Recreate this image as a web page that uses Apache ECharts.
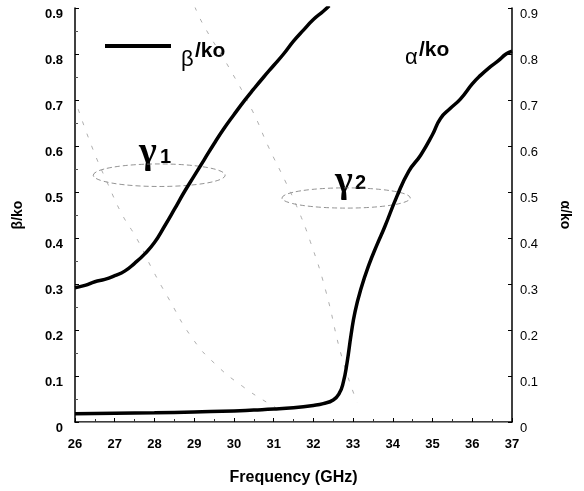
<!DOCTYPE html>
<html>
<head>
<meta charset="utf-8">
<script src="https://cdn.jsdelivr.net/npm/echarts@6/dist/echarts.min.js"></script>
<style>
  html, body { margin: 0; padding: 0; background: #fff; }
  #main { width: 584px; height: 491px; }
</style>
</head>
<body>
<div id="main"></div>
<script>
// beta/ko curve (frequency GHz, value)
var betaFreq = [26, 26.25, 26.5, 26.75, 27, 27.25, 27.5, 27.75, 28, 28.25, 28.5, 28.75, 29, 29.25, 29.5, 29.75, 30, 30.25, 30.5, 30.75, 31, 31.25, 31.5, 31.75, 32, 32.25, 32.4];
var betaVal = [0.292, 0.297, 0.305, 0.310, 0.318, 0.328, 0.345, 0.365, 0.39, 0.425, 0.462, 0.50, 0.535, 0.57, 0.605, 0.638, 0.668, 0.697, 0.724, 0.75, 0.775, 0.80, 0.828, 0.852, 0.875, 0.893, 0.905];

// alpha/ko curve
var alphaFreq = [26, 27, 28, 29, 30, 30.5, 31, 31.5, 32, 32.25, 32.5, 32.65, 32.75, 32.85, 32.95, 33.05, 33.2, 33.4, 33.6, 33.8, 34.1, 34.4, 34.7, 35, 35.2, 35.45, 35.7, 36, 36.2, 36.45, 36.65, 36.85, 37];
var alphaVal = [0.018, 0.019, 0.020, 0.022, 0.024, 0.026, 0.028, 0.031, 0.036, 0.040, 0.048, 0.062, 0.085, 0.13, 0.19, 0.24, 0.29, 0.342, 0.385, 0.425, 0.49, 0.545, 0.58, 0.625, 0.66, 0.682, 0.702, 0.735, 0.753, 0.772, 0.785, 0.80, 0.806];

// faint dashed cone lines
var coneAFreq = [26.08, 26.45, 26.83, 27.18, 27.56, 27.94, 28.32, 28.97, 29.58, 30.21, 30.86, 31.29];
var coneAVal = [0.680, 0.593, 0.517, 0.452, 0.398, 0.333, 0.274, 0.180, 0.122, 0.078, 0.041, 0.020];
var coneBFreq = [29.02, 29.22, 29.90, 30.48, 30.86, 31.29, 31.59, 31.92, 32.30, 32.73, 33.10];
var coneBVal = [0.902, 0.865, 0.767, 0.674, 0.600, 0.524, 0.467, 0.393, 0.289, 0.137, 0.043];

// ellipses: [xMin, xMax, yMin, yMax]
var ellipses = [[26.46, 29.78, 0.512, 0.561], [31.21, 34.44, 0.465, 0.509]];

var xTicks = [26, 27, 28, 29, 30, 31, 32, 33, 34, 35, 36, 37];
var yTicks = [0, 0.1, 0.2, 0.3, 0.4, 0.5, 0.6, 0.7, 0.8, 0.9];

function zip(a, b) {
    var out = [];
    for (var i = 0; i < a.length; i++) out.push([a[i], b[i]]);
    return out;
}

var myChart = echarts.init(document.getElementById('main'));
var font = 'Liberation Sans, Arial, sans-serif';
var serif = 'Liberation Serif, serif';

function yFmt(v) { return v === 0 ? '0' : v.toFixed(1); }

var option = {
    animation: false,
    backgroundColor: '#fff',
    grid: { left: 75, right: 72, top: 8, bottom: 68 },
    xAxis: [{
        type: 'value',
        min: xTicks[0], max: xTicks[xTicks.length - 1], interval: 1,
        name: 'Frequency (GHz)',
        nameLocation: 'middle', nameGap: 48,
        nameTextStyle: { fontFamily: font, fontWeight: 'bold', fontSize: 16, color: '#000' },
        axisLine: { lineStyle: { color: '#000', width: 1.5 } },
        axisTick: { inside: true, length: 4, lineStyle: { color: '#000' } },
        minorTick: { show: true, splitNumber: 2, length: 3, lineStyle: { color: '#333' } },
        axisLabel: { fontFamily: font, fontWeight: 'bold', fontSize: 13, color: '#000', margin: 16 },
        splitLine: { show: false }
    }, {
        type: 'value', position: 'top',
        min: xTicks[0], max: xTicks[xTicks.length - 1],
        axisLine: { show: true, lineStyle: { color: '#888', width: 1 } },
        axisTick: { show: false }, axisLabel: { show: false }, splitLine: { show: false }
    }],
    yAxis: [{
        type: 'value', position: 'left',
        min: yTicks[0], max: yTicks[yTicks.length - 1], interval: 0.1,
        name: 'β/ko', nameLocation: 'middle', nameGap: 50, nameRotate: 90,
        nameTextStyle: { fontFamily: font, fontWeight: 'bold', fontSize: 14, color: '#000' },
        axisLine: { show: true, lineStyle: { color: '#000', width: 1.5 } },
        axisTick: { inside: true, length: 4, lineStyle: { color: '#000' } },
        minorTick: { show: true, splitNumber: 2, length: 3, lineStyle: { color: '#555' } },
        axisLabel: {
            fontFamily: font, fontWeight: 'bold', fontSize: 13, color: '#000', margin: 12,
            verticalAlign: 'top', formatter: yFmt
        },
        splitLine: { show: false }
    }, {
        type: 'value', position: 'right',
        min: yTicks[0], max: yTicks[yTicks.length - 1], interval: 0.1,
        name: 'α/ko', nameLocation: 'middle', nameGap: 46, nameRotate: -90,
        nameTextStyle: { fontFamily: font, fontWeight: 'bold', fontSize: 14, color: '#000' },
        axisLine: { show: true, lineStyle: { color: '#000', width: 1.5 } },
        axisTick: { inside: true, length: 4, lineStyle: { color: '#000' } },
        axisLabel: {
            fontFamily: font, fontSize: 13, color: '#000', margin: 8,
            verticalAlign: 'top', formatter: yFmt
        },
        splitLine: { show: false }
    }],
    series: [
        {
            name: 'coneA', type: 'line', smooth: true, symbol: 'none', silent: true,
            data: zip(coneAFreq, coneAVal),
            lineStyle: { color: '#999', width: 0.8, type: [4, 9] }
        },
        {
            name: 'coneB', type: 'line', smooth: true, symbol: 'none', silent: true,
            data: zip(coneBFreq, coneBVal),
            lineStyle: { color: '#999', width: 0.8, type: [4, 9] }
        },
        {
            name: 'ellipse', type: 'custom', silent: true,
            encode: { x: [0, 1], y: [2, 3] },
            data: ellipses,
            renderItem: function (params, api) {
                var p0 = api.coord([api.value(0), api.value(3)]);
                var p1 = api.coord([api.value(1), api.value(2)]);
                return {
                    type: 'path',
                    shape: {
                        pathData: 'M0 1A1 1 0 1 1 2 1A1 1 0 1 1 0 1Z',
                        x: p0[0], y: p0[1], width: p1[0] - p0[0], height: p1[1] - p0[1],
                        layout: 'cover'
                    },
                    style: { fill: null, stroke: '#777', lineWidth: 0.8, lineDash: [5, 3] }
                };
            }
        },
        {
            name: 'β/ko', type: 'line', smooth: true, symbol: 'none',
            data: zip(betaFreq, betaVal),
            lineStyle: { color: '#000', width: 3.5 }
        },
        {
            name: 'α/ko', type: 'line', smooth: true, symbol: 'none',
            data: zip(alphaFreq, alphaVal),
            lineStyle: { color: '#000', width: 3.5 }
        }
    ],
    graphic: [
        { type: 'line', shape: { x1: 105, y1: 46, x2: 171, y2: 46 }, style: { stroke: '#000', lineWidth: 4 } },
        { type: 'text', x: 181, y: 49, style: { text: 'β', font: '22px ' + font, fill: '#000' } },
        { type: 'text', x: 195, y: 41, style: { text: '/ko', font: 'bold 21px ' + font, fill: '#000' } },
        { type: 'text', x: 405, y: 47, style: { text: 'α', font: '22px ' + font, fill: '#000' } },
        { type: 'text', x: 419, y: 40, style: { text: '/ko', font: 'bold 21px ' + font, fill: '#000' } },
        { type: 'text', x: 139, y: 134, style: { text: 'γ', font: 'bold 38px ' + serif, fill: '#000' } },
        { type: 'text', x: 160, y: 147, style: { text: '1', font: 'bold 20px ' + font, fill: '#000' } },
        { type: 'text', x: 335, y: 163, style: { text: 'γ', font: 'bold 38px ' + serif, fill: '#000' } },
        { type: 'text', x: 355, y: 173, style: { text: '2', font: 'bold 20px ' + font, fill: '#000' } }
    ]
};

myChart.setOption(option);
</script>
</body>
</html>
